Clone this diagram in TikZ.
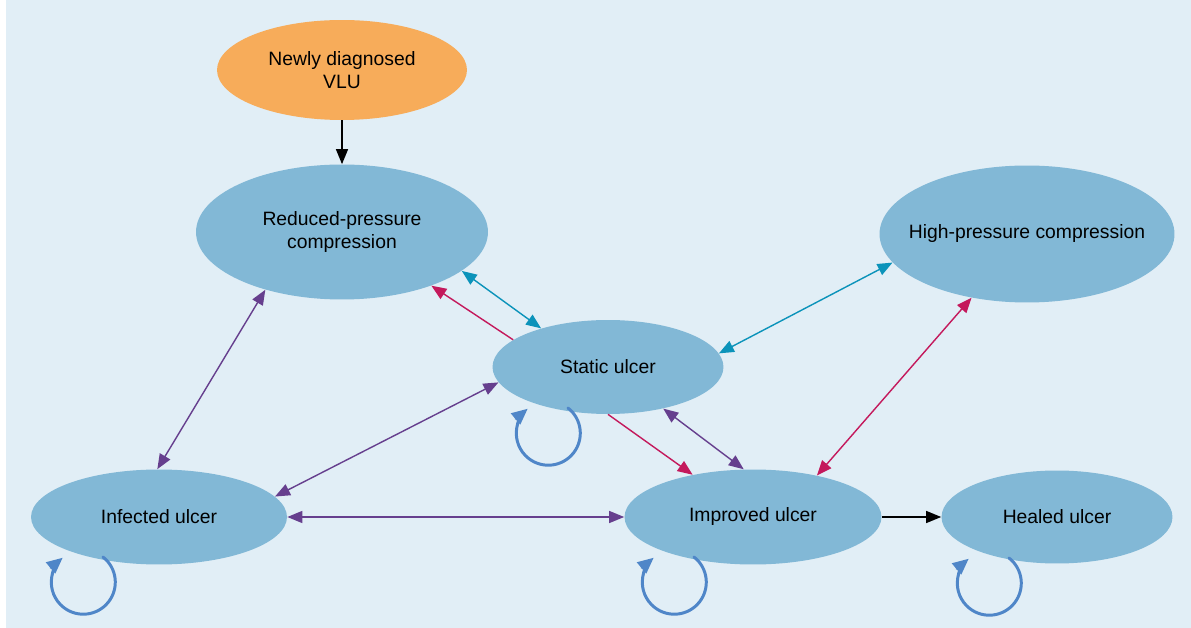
\documentclass[tikz,border=0pt]{standalone}
\usepackage{fontspec}
\setmainfont{Liberation Sans}
\usetikzlibrary{shapes.geometric, arrows.meta, calc}
\definecolor{bgblue}{HTML}{E1EEF6}
\definecolor{ulcerblue}{HTML}{82B8D6}
\definecolor{vluorange}{HTML}{F7AC5A}
\definecolor{tealc}{HTML}{0B93BA}
\definecolor{magc}{HTML}{C4195C}
\definecolor{purc}{HTML}{663F8E}
\definecolor{loopc}{HTML}{4F86C8}
\tikzset{
  font=\fontsize{11}{13}\selectfont,
  % Set arrowhead
  >={Triangle[length=3mm, width=2.4mm]},
  % State of the ulcer
  state/.style={draw=none, fill=ulcerblue, shape=ellipse, inner sep=-1cm,
    align=center},
  % Entry state
  entry/.style={state, fill=vluorange},
  % Transitions
  tr/.style={line width=0.8pt},
  trblack/.style={tr, black},
  trteal/.style={tr, tealc},
  trmag/.style={tr, magc},
  trpurple/.style={tr, purc},
  % Staying in the same state
  stay/.style={line width=1.7pt, loopc, line cap=round,
    -{Triangle[length=3.2mm, width=2.8mm]}},
}

\begin{document}
\begin{tikzpicture}[x=0.02cm, y=-0.02cm]
  \useasboundingbox (0,0) rectangle (1191,628);
  \fill[bgblue] (6,0) rectangle (1191,628);

  \node[entry, minimum width=5cm, minimum height=2cm] (vlu) at (342,70)
  {Newly diagnosed\\VLU};
  \node[state, minimum width=5.84cm, minimum height=2.7cm] (rpc) at (342,232)
  {Reduced-pressure\\compression};
  \node[state, minimum width=5.9cm, minimum height=2.74cm] (hpc) at (1027,234)
  {High-pressure compression};
  \node[state, minimum width=4.62cm, minimum height=1.88cm] (stat) at (608,367)
  {Static ulcer};
  \node[state, minimum width=5.12cm, minimum height=1.9cm] (inf) at (159,517)
  {Infected ulcer};
  \node[state, minimum width=5.14cm, minimum height=1.9cm] (imp) at (753,517)
  {Improved ulcer};
  \node[state, minimum width=4.62cm, minimum height=1.86cm] (heal) at (1057,517)
  {Healed ulcer};

  \draw[trblack, ->] (vlu) -- (rpc);
  \draw[trteal, <->] (rpc.-18) -- (stat.150);
  \draw[trmag, ->] (stat.164) -- (rpc.-31);
  \draw[trpurple, <->] (rpc.-143) -- (inf.92);
  \draw[trpurple, <->] (stat.188) -- (inf.10);
  \draw[trteal, <->] (stat.7) -- (hpc.192);
  \draw[trmag, ->] (stat.-90) -- (imp.145);
  \draw[trpurple, <->] (stat.-37) -- (imp.101);
  \draw[trmag, <->] (imp.33) -- (hpc.229);
  \draw[trpurple, <->] (inf) -- (imp);
  \draw[trblack, ->] (imp) -- (heal);

  % loops
  \draw[stay] (inf.center) ++(-56,40) arc[start angle=52, end angle=-230, radius=0.64cm];
  \draw[stay] (stat.center) ++(-40,41) arc[start angle=52, end angle=-230, radius=0.64cm];
  \draw[stay] (imp.center) ++(-59,40) arc[start angle=52, end angle=-230, radius=0.64cm];
  \draw[stay] (heal.center) ++(-48,41) arc[start angle=52, end angle=-230, radius=0.64cm];
\end{tikzpicture}
\end{document}
